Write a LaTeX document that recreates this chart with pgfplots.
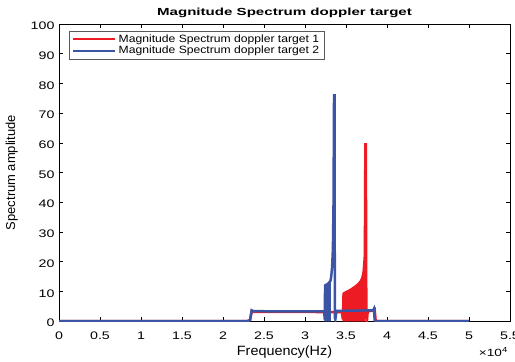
\documentclass[border=0pt]{standalone}
\usepackage{pgfplots}
\pgfplotsset{compat=1.18}
\usepackage{fontspec}
\setmainfont{Liberation Sans}
\newfontfamily\ticksfont[FakeStretch=1.3]{Liberation Sans}
\newfontfamily\titlefont[FakeStretch=1.47]{Liberation Sans}
\newfontfamily\legfont[FakeStretch=1.15]{Liberation Sans}
\newfontfamily\labfont[FakeStretch=1.07]{Liberation Sans}
\definecolor{myred}{RGB}{237,28,36}
\definecolor{myblue}{RGB}{59,84,164}
\begin{document}
\begin{tikzpicture}
\begin{axis}[
  scale only axis,
  width=451bp, height=297bp,
  xmin=0, xmax=55000, ymin=0, ymax=100,
  scaled x ticks=false,
  xtick={0,5000,10000,15000,20000,25000,30000,35000,40000,45000,50000,55000},
  xticklabels={0,0.5,1,1.5,2,2.5,3,3.5,4,4.5,5,5.5},
  ytick={0,10,20,30,40,50,60,70,80,90,100},
  yticklabels={0,10,20,30,40,50,60,70,80,90,100},
  tick label style={font=\ticksfont\fontsize{11}{12}\selectfont},
  xticklabel style={yshift=-7bp},
  yticklabel style={xshift=-1bp, yshift=-2bp},
  major tick length=4bp,
  tick style={black, line width=0.5pt},
  axis line style={line width=0.6pt},
  title={\bfseries Magnitude Spectrum doppler target},
  title style={font=\titlefont\fontsize{10.3}{12}\selectfont, anchor=base, at={(0.5,1)}, yshift=3bp},
  xlabel={Frequency(Hz)},
  ylabel={Spectrum amplitude},
  xlabel style={font=\labfont\fontsize{13.5}{15}\selectfont, yshift=0bp},
  ylabel style={font=\fontsize{13}{15}\selectfont, yshift=6bp},
  legend style={at={(0.022,0.977)}, anchor=north west, font=\legfont\fontsize{10.6}{12}\selectfont,
    draw=gray!70!black, line width=0.6pt, row sep=-1.5bp, inner xsep=3bp, inner ysep=1.5bp},
  legend cell align=left,
  legend image code/.code={\draw[#1] (0bp,0bp) -- (42bp,0bp);},
]
% red dense region
\addplot[fill=myred, draw=myred, line width=0.8pt, forget plot] coordinates {
(34620,0) (34700,9.2) (35000,9.7) (35500,10.4) (36000,11.3) (36500,12.4) (36800,13.4) (37000,14.6) (37150,16.5) (37300,22) (37300,0)
} -- cycle;
\addplot[myred, line width=2.5pt] coordinates {
(0,0) (23000,0) (23300,0.3) (23500,3.4) (23700,3.1) (34500,3.0) (34620,0.5) (34700,9.2) (35000,9.7) (35500,10.4) (36000,11.3) (36500,12.4) (36800,13.4) (37000,14.6) (37150,16.5) (37300,22) (37360,59.5) (37420,59.5) (37480,1) (37550,0) (37650,3.3) (38400,3.5) (38500,3.8) (38620,0) (50000,0)
};
\addlegendentry{Magnitude Spectrum doppler target 1}
% blue dense region
\addplot[fill=myblue, draw=myblue, line width=0.8pt, forget plot] coordinates {
(32400,0) (32450,12) (32800,12.5) (33100,13.5) (33100,0)
} -- cycle;
\addplot[myblue, line width=2.5pt] coordinates {
(0,0) (23000,0) (23300,0.3) (23500,3.6) (23700,3.3) (32350,3.2) (32400,0.5) (32450,12) (32800,12.5) (33100,13.5) (33200,15) (33300,18) (33400,24) (33480,40) (33540,76) (33600,76) (33640,1) (33700,0.5) (33850,3.4) (38300,3.6) (38400,4.1) (38500,0.3) (38700,0) (50000,0)
};
\addlegendentry{Magnitude Spectrum doppler target 2}
\end{axis}
\node[anchor=base east, font=\ticksfont\fontsize{10.5}{12}\selectfont, inner sep=0pt] at ([xshift=-2bp,yshift=-35bp]current axis.south east) {×10\textsuperscript{4}};
\pgfresetboundingbox
\path (current axis.south west) ++(-59bp,-41bp) rectangle ++(515bp,362bp);
\end{tikzpicture}
\end{document}
